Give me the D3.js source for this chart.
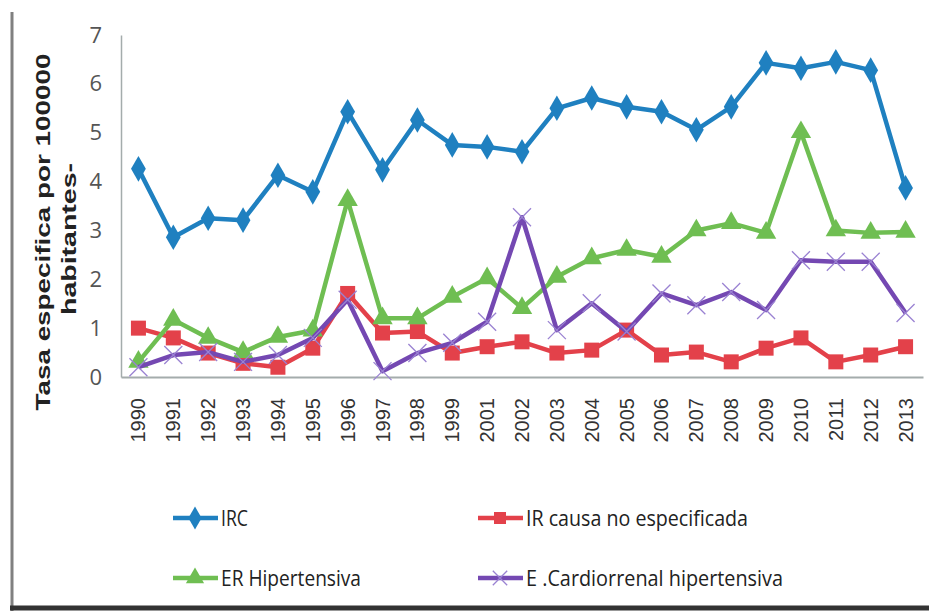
<!DOCTYPE html>
<html>
<head>
<meta charset="utf-8">
<script src="https://cdn.jsdelivr.net/npm/d3@7"></script>
<style>
  body { margin: 0; background: #fff; }
  svg { display: block; }
</style>
</head>
<body>
<div id="chart"></div>
<script>
// Years on the x axis (no 2000 in the source)
var years = ["1990","1991","1992","1993","1994","1995","1996","1997","1998","1999",
             "2001","2002","2003","2004","2005","2006","2007","2008","2009","2010",
             "2011","2012","2013"];
var yTicks = [0, 1, 2, 3, 4, 5, 6, 7];

// Series values
var irc = [4.26, 2.86, 3.25, 3.21, 4.13, 3.79, 5.43, 4.24, 5.26, 4.75,
           4.71, 4.61, 5.5, 5.71, 5.53, 5.43, 5.06, 5.53, 6.43, 6.32,
           6.45, 6.28, 3.87];
var irNoEsp = [1.0, 0.8, 0.49, 0.28, 0.2, 0.59, 1.71, 0.9, 0.93, 0.49,
               0.62, 0.72, 0.49, 0.55, 0.96, 0.45, 0.51, 0.31, 0.59, 0.8,
               0.31, 0.45, 0.62];
var erHiper = [0.31, 1.17, 0.8, 0.51, 0.82, 0.95, 3.62, 1.2, 1.2, 1.64,
               2.02, 1.41, 2.05, 2.43, 2.6, 2.46, 3.0, 3.15, 2.95, 5.01,
               3.0, 2.95, 2.97];
var cardio = [0.2, 0.45, 0.51, 0.31, 0.45, 0.8, 1.58, 0.12, 0.49, 0.7,
              1.13, 3.27, 0.96, 1.51, 0.93, 1.71, 1.47, 1.74, 1.37, 2.39,
              2.36, 2.36, 1.31];

var seriesNames = ["IRC", "IR causa no especificada", "ER Hipertensiva", "E .Cardiorrenal hipertensiva"];

var series = [
  {name: seriesNames[0], values: irc,     color: "#1f80c0", marker: "diamond"},
  {name: seriesNames[1], values: irNoEsp, color: "#e3414a", marker: "square"},
  {name: seriesNames[2], values: erHiper, color: "#6fbe52", marker: "triangle"},
  {name: seriesNames[3], values: cardio,  color: "#7448b2", marker: "x"}
];

var width = 929, height = 616;
var plotLeft = 121, plotRight = 923, plotTop = 35, plotBottom = 377;

var svg = d3.select("#chart").append("svg")
  .attr("width", width)
  .attr("height", height);

// frame lines (left + bottom)
svg.append("line")
  .attr("x1", 12).attr("y1", 12).attr("x2", 12).attr("y2", 611)
  .attr("stroke", "#808080").attr("stroke-width", 3);
svg.append("line")
  .attr("x1", 10).attr("y1", 608).attr("x2", width).attr("y2", 608)
  .attr("stroke", "#333").attr("stroke-width", 5);

var x = d3.scaleBand().domain(years).range([plotLeft, plotRight]);
var y = d3.scaleLinear().domain([0, 7]).range([plotBottom, plotTop]);

function cx(i) { return x(years[i]) + x.bandwidth() / 2; }

// y axis
var yAxis = svg.append("g")
  .attr("transform", "translate(" + plotLeft + ",0)")
  .call(d3.axisLeft(y).tickValues(yTicks).tickFormat(d3.format("d")).tickSize(0).tickPadding(19));
yAxis.select(".domain").attr("stroke", "#a4acac").attr("stroke-width", 1.5);
yAxis.selectAll("text")
  .attr("font-family", "'Open Sans', sans-serif")
  .attr("font-size", 22)
  .attr("fill", "#555")
  .attr("transform", "scale(1,1.1)")
  .attr("transform", null);

// x axis
var xAxis = svg.append("g")
  .attr("transform", "translate(0," + plotBottom + ")")
  .call(d3.axisBottom(x).tickSize(0));
xAxis.select(".domain").attr("stroke", "#a4acac").attr("stroke-width", 2);
xAxis.selectAll("text")
  .attr("font-family", "'Liberation Sans', Arial, sans-serif")
  .attr("font-size", 20)
  .attr("fill", "#333")
  .attr("text-anchor", "end")
  .attr("dy", "0.35em")
  .attr("transform", "translate(0,21) rotate(-90)")
  .attr("x", 0).attr("y", 0);

// y axis title (two lines)
var title = svg.append("g").attr("transform", "translate(0,232)");
title.append("text")
  .text("Tasa especifica por 100000")
  .attr("transform", "translate(50,0) rotate(-90)")
  .attr("text-anchor", "middle")
  .attr("font-family", "'Liberation Sans', Arial, sans-serif")
  .attr("font-weight", "bold")
  .attr("font-size", 21)
  .attr("fill", "#222")
  .attr("textLength", 357)
  .attr("lengthAdjust", "spacingAndGlyphs");
title.append("text")
  .text("habitantes-")
  .attr("transform", "translate(76,7) rotate(-90)")
  .attr("text-anchor", "middle")
  .attr("font-family", "'Liberation Sans', Arial, sans-serif")
  .attr("font-weight", "bold")
  .attr("font-size", 21)
  .attr("fill", "#222")
  .attr("textLength", 152)
  .attr("lengthAdjust", "spacingAndGlyphs");

// marker drawing
function drawMarker(g, type, color, px, py, scale) {
  var s = scale || 1;
  if (type === "diamond") {
    g.append("path")
      .attr("d", d3.symbol().type(d3.symbolDiamond).size(190 * s)())
      .attr("transform", "translate(" + px + "," + py + ")")
      .attr("fill", color);
  } else if (type === "square") {
    g.append("rect")
      .attr("x", px - 7.5 * s).attr("y", py - 7.5 * s)
      .attr("width", 15 * s).attr("height", 15 * s)
      .attr("fill", color);
  } else if (type === "triangle") {
    g.append("path")
      .attr("d", d3.symbol().type(d3.symbolTriangle).size(180 * s)())
      .attr("transform", "translate(" + px + "," + py + ")")
      .attr("fill", color);
  } else {
    var r = 9 * s;
    g.append("path")
      .attr("d", "M" + (px - r) + "," + (py - r) + "L" + (px + r) + "," + (py + r) +
                 "M" + (px - r) + "," + (py + r) + "L" + (px + r) + "," + (py - r))
      .attr("stroke", "#9a82d2").attr("stroke-width", 1.3).attr("fill", "none");
  }
}

var line = d3.line()
  .x(function(d, i) { return cx(i); })
  .y(function(d) { return y(d); });

series.forEach(function(s) {
  var g = svg.append("g");
  g.append("path")
    .attr("d", line(s.values))
    .attr("fill", "none")
    .attr("stroke", s.color)
    .attr("stroke-width", 4.5)
    .attr("stroke-linejoin", "round");
  s.values.forEach(function(v, i) {
    drawMarker(g, s.marker, s.color, cx(i), y(v));
  });
});

// legend
var legendPos = [
  {x: 173, y: 518, len: 27},
  {x: 478, y: 518, len: 222},
  {x: 173, y: 578, len: 140},
  {x: 478, y: 578, len: 257}
];
series.forEach(function(s, i) {
  var p = legendPos[i];
  var g = svg.append("g");
  g.append("line")
    .attr("x1", p.x).attr("y1", p.y).attr("x2", p.x + 45).attr("y2", p.y)
    .attr("stroke", s.color).attr("stroke-width", 4.5);
  drawMarker(g, s.marker, s.color, p.x + 22, p.y, 0.8);
  g.append("text")
    .text(s.name)
    .attr("x", p.x + 48).attr("y", p.y + 8)
    .attr("font-family", "'Open Sans', sans-serif")
    .attr("font-size", 22)
    .attr("fill", "#222")
    .attr("textLength", p.len)
    .attr("lengthAdjust", "spacingAndGlyphs");
});
</script>
</body>
</html>
